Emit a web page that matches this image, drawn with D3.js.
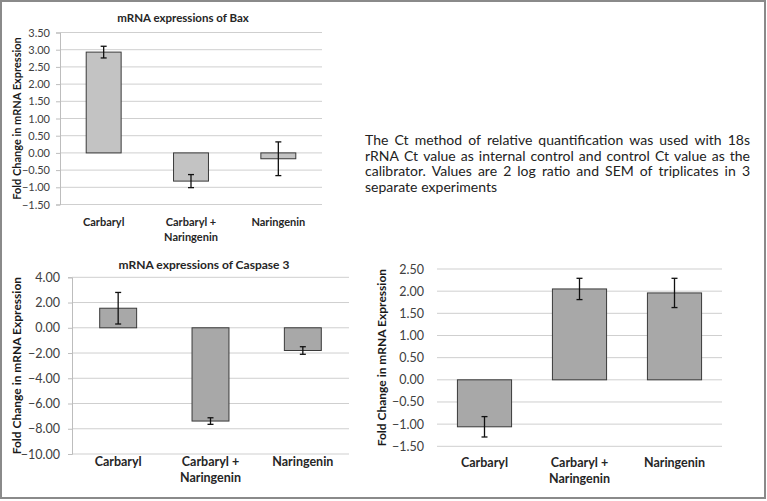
<!DOCTYPE html>
<html>
<head>
<meta charset="utf-8">
<script src="https://cdn.jsdelivr.net/npm/d3@7"></script>
<style>
  body { margin: 0; background: #fff; }
  svg { display: block; font-family: Lato, "Open Sans", sans-serif; }
</style>
</head>
<body>
<svg id="fig" width="767" height="501"></svg>
<script>
const categories = [["Carbaryl"], ["Carbaryl +", "Naringenin"], ["Naringenin"]];

const baxValues = [2.93, -0.82, -0.17];
const baxErrors = [0.17, 0.19, 0.49];
const baxTicks = [-1.5, -1.0, -0.5, 0, 0.5, 1.0, 1.5, 2.0, 2.5, 3.0, 3.5];

const caspValues = [1.55, -7.39, -1.80];
const caspErrors = [1.25, 0.26, 0.30];
const caspTicks = [-10, -8, -6, -4, -2, 0, 2, 4];

const thirdValues = [-1.06, 2.05, 1.96];
const thirdErrors = [0.23, 0.24, 0.33];
const thirdTicks = [-1.5, -1.0, -0.5, 0, 0.5, 1.0, 1.5, 2.0, 2.5];

const noteLines = [
    "The Ct method of relative quantification was used with 18s",
    "rRNA Ct value as internal control and control Ct value as the",
    "calibrator. Values are 2 log ratio and SEM of triplicates in 3",
    "separate experiments"
];

const svg = d3.select("#fig");

// outer frame
svg.append("rect")
    .attr("x", 1).attr("y", 1)
    .attr("width", 764).attr("height", 497)
    .attr("fill", "none")
    .attr("stroke", "#8a8a8a")
    .attr("stroke-width", 2);

function drawChart(opt) {
    const g = svg.append("g");
    const x = d3.scaleBand().domain(d3.range(categories.length)).range(opt.xRange);
    const y = d3.scaleLinear().domain(d3.extent(opt.ticks)).range(opt.yRange);

    // gridlines
    g.selectAll(".grid")
        .data(opt.ticks)
        .enter()
        .append("line")
        .attr("x1", opt.xRange[0]).attr("x2", opt.xRange[1])
        .attr("y1", d => y(d)).attr("y2", d => y(d))
        .attr("stroke", "#cfcfcf")
        .attr("stroke-width", 1);

    // y axis
    const axis = g.append("g")
        .attr("transform", `translate(${opt.xRange[0]},0)`)
        .call(d3.axisLeft(y).tickValues(opt.ticks).tickFormat(d3.format(".2f"))
            .tickSize(opt.axisLine ? 4 : 0).tickPadding(opt.tickPad));
    axis.select(".domain").attr("stroke", opt.axisLine ? "#bdbdbd" : "none");
    axis.selectAll(".tick line").attr("stroke", "#bdbdbd");
    axis.selectAll(".tick text")
        .attr("fill", "#404040")
        .style("font-size", opt.tickSize + "px")
        .style("font-family", "Lato, sans-serif");

    const bw = x.bandwidth() * opt.barFrac;
    const cx = i => x(i) + x.bandwidth() / 2;

    // bars
    g.selectAll(".bar")
        .data(opt.values)
        .enter()
        .append("rect")
        .attr("x", (d, i) => cx(i) - bw / 2)
        .attr("y", d => y(Math.max(0, d)))
        .attr("width", bw)
        .attr("height", d => Math.abs(y(d) - y(0)))
        .attr("fill", opt.fill)
        .attr("stroke", "#3a3a3a")
        .attr("stroke-width", 1);

    // error bars
    opt.values.forEach((v, i) => {
        const e = opt.errors[i];
        const eg = g.append("g").attr("stroke", "#111").attr("stroke-width", 1.3);
        eg.append("line").attr("x1", cx(i)).attr("x2", cx(i)).attr("y1", y(v - e)).attr("y2", y(v + e));
        [v - e, v + e].forEach(t => {
            eg.append("line").attr("x1", cx(i) - 3).attr("x2", cx(i) + 3).attr("y1", y(t)).attr("y2", y(t));
        });
    });

    // category labels
    categories.forEach((lines, i) => {
        lines.forEach((s, k) => {
            g.append("text")
                .attr("x", cx(i))
                .attr("y", opt.labelY + k * opt.labelGap)
                .attr("text-anchor", "middle")
                .attr("fill", "#262626")
                .style("font-weight", "bold")
                .style("font-size", opt.labelSize + "px")
                .text(s);
        });
    });

    // y title
    g.append("text")
        .attr("transform", `translate(${opt.yTitleX},${(opt.yRange[0] + opt.yRange[1]) / 2}) rotate(-90)`)
        .attr("text-anchor", "middle")
        .attr("fill", "#1a1a1a")
        .style("font-weight", "bold")
        .style("font-size", opt.yTitleSize + "px")
        .text("Fold Change in mRNA Expression");

    if (opt.title) {
        g.append("text")
            .attr("x", opt.title.x).attr("y", opt.title.y)
            .attr("text-anchor", "middle")
            .attr("fill", "#262626")
            .style("font-weight", "bold")
            .style("font-size", opt.title.size + "px")
            .text(opt.title.text);
    }
}

drawChart({
    values: baxValues, errors: baxErrors, ticks: baxTicks,
    xRange: [60, 322], yRange: [204.5, 32.5], barFrac: 0.4,
    fill: "#c3c3c3", axisLine: true, tickPad: 6, tickSize: 11,
    labelY: 226, labelGap: 15, labelSize: 11,
    yTitleX: 21, yTitleSize: 11,
    title: { text: "mRNA expressions of Bax", x: 183, y: 22, size: 11.5 }
});

drawChart({
    values: caspValues, errors: caspErrors, ticks: caspTicks,
    xRange: [72, 349], yRange: [454, 277.3], barFrac: 0.4,
    fill: "#a8a8a8", axisLine: true, tickPad: 8, tickSize: 12.5,
    labelY: 466, labelGap: 15.5, labelSize: 12.5,
    yTitleX: 21, yTitleSize: 12,
    title: { text: "mRNA expressions of Caspase 3", x: 204, y: 269, size: 12 }
});

drawChart({
    values: thirdValues, errors: thirdErrors, ticks: thirdTicks,
    xRange: [437, 722], yRange: [446.3, 269], barFrac: 0.57,
    fill: "#a8a8a8", axisLine: false, tickPad: 13, tickSize: 12.5,
    labelY: 467, labelGap: 15.5, labelSize: 12.5,
    yTitleX: 386, yTitleSize: 12,
    title: null
});

// justified note text
const noteX = 365, noteW = 385, noteY = 145, noteGap = 15.6;
noteLines.forEach((line, li) => {
    const words = line.split(" ");
    const t = svg.append("g");
    const nodes = words.map(w => t.append("text")
        .attr("y", noteY + li * noteGap)
        .attr("fill", "#222")
        .style("font-size", "14px")
        .text(w));
    const widths = nodes.map(n => n.node().getComputedTextLength());
    const last = li === noteLines.length - 1;
    const gap = last ? 3.8 : (noteW - d3.sum(widths)) / (words.length - 1);
    let cur = noteX;
    nodes.forEach((n, i) => {
        n.attr("x", cur);
        cur += widths[i] + gap;
    });
});
</script>
</body>
</html>
